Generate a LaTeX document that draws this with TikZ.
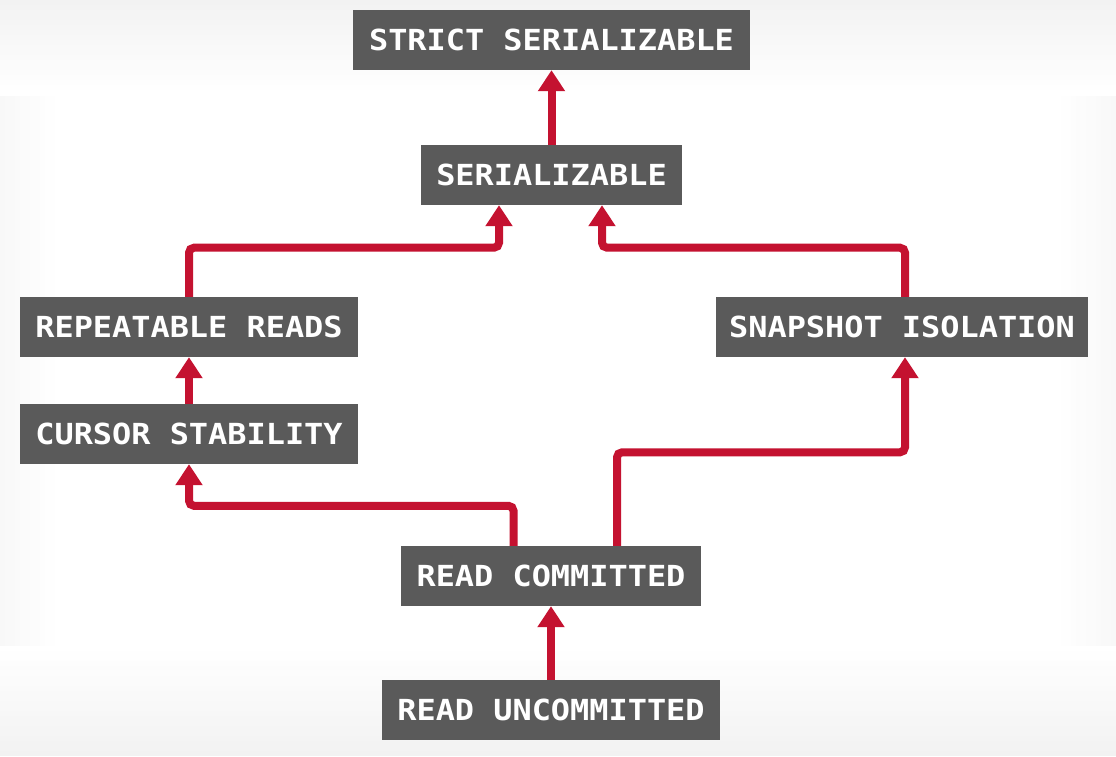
\documentclass[tikz,border=0pt]{standalone}
\usepackage{fontspec}
\newfontfamily\lblfont[FakeStretch=1.1]{DejaVu Sans Mono}
\usetikzlibrary{arrows.meta}
\definecolor{boxgray}{HTML}{5A5A5A}
\definecolor{arrred}{HTML}{C41230}
\definecolor{bggray}{HTML}{F2F2F2}
\definecolor{bgside}{HTML}{F8F8F8}
\tikzset{
  lvl/.style={fill=boxgray, text=white, inner sep=0pt, minimum height=60pt,
    font=\lblfont\bfseries\fontsize{29}{35}\selectfont, text height=21.1pt, text depth=0pt},
  arr/.style={draw=arrred, line width=8pt, rounded corners=5pt,
    -{Triangle[width=26pt,length=21pt]}}
}
\begin{document}
\begin{tikzpicture}[x=1pt,y=-1pt]
  \useasboundingbox (0,0) rectangle (1116,756);
  \fill[white] (0,0) rectangle (1116,756);
  % side bands
  \foreach \i in {0,...,11} {
    \pgfmathsetmacro\p{100*\i/11}
    \fill[white!\p!bgside] ({5*\i},0) rectangle ({5*\i+5.5},756);
    \fill[white!\p!bgside] ({1116-5*\i},0) rectangle ({1116-5*\i-5.5},756);
  }
  % top band
  \foreach \i in {0,...,18} {
    \pgfmathsetmacro\p{100*\i/18}
    \fill[white!\p!bggray] (0,{5*\i}) rectangle (1116,{5*\i+5.5});
  }
  % bottom band
  \foreach \i in {0,...,21} {
    \pgfmathsetmacro\p{100*\i/21}
    \fill[white!\p!bggray] (0,{756-5*\i}) rectangle (1116,{756-5*\i-5.5});
  }

  \node[lvl, minimum width=397pt] (strict) at (551.5,40) {STRICT SERIALIZABLE};
  \node[lvl, minimum width=261pt] (ser) at (551.5,175) {SERIALIZABLE};
  \node[lvl, minimum width=338pt] (rr) at (189,327) {REPEATABLE READS};
  \node[lvl, minimum width=338pt] (cs) at (189,434) {CURSOR STABILITY};
  \node[lvl, minimum width=372pt] (si) at (902,327) {SNAPSHOT ISOLATION};
  \node[lvl, minimum width=300pt] (rc) at (551,576) {READ COMMITTED};
  \node[lvl, minimum width=338pt] (ru) at (551,710) {READ UNCOMMITTED};

  \draw[arr] (ser.north) -- (strict.south);
  \draw[arr] (rr.north) |- ([xshift=-52.5pt,yshift=-42.5pt]ser.south) -- ([xshift=-52.5pt]ser.south);
  \draw[arr] ([xshift=3pt]si.north) |- ([xshift=50.5pt,yshift=-42.5pt]ser.south) -- ([xshift=50.5pt]ser.south);
  \draw[arr] (cs.north) -- (rr.south);
  \draw[arr] ([xshift=-37.5pt]rc.north) -- ++(0,-40) -| (cs.south);
  \draw[arr] ([xshift=66pt]rc.north) -- ++(0,-93.5) -| ([xshift=3pt]si.south);
  \draw[arr] (ru.north) -- (rc.south);
\end{tikzpicture}
\end{document}
